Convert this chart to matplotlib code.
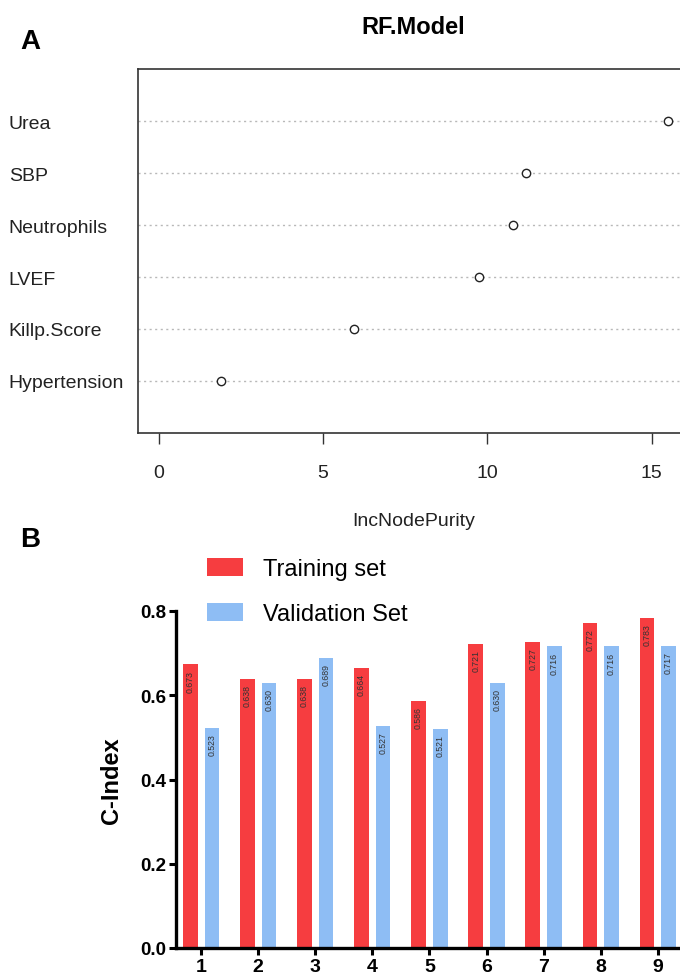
"""Two-panel figure: RF variable importance (A) and C-index per model (B)."""

import matplotlib

matplotlib.use("Agg")
import matplotlib.pyplot as plt  # noqa: E402
import numpy as np  # noqa: E402

plt.rcParams["font.family"] = ["Liberation Sans", "DejaVu Sans"]

# ---- data: panel A (random forest importance) ----
FEATURES = ["Hypertension", "Killp.Score", "LVEF", "Neutrophils", "SBP", "Urea"]
NODE_PURITY = [1.90, 5.94, 9.75, 10.78, 11.19, 15.50]
PURITY_TICKS = [0, 5, 10, 15]

# ---- data: panel B (C-index per model) ----
MODELS = ["1", "2", "3", "4", "5", "6", "7", "8", "9"]
TRAIN_CINDEX = [0.673, 0.638, 0.638, 0.664, 0.586, 0.721, 0.727, 0.772, 0.783]
VALID_CINDEX = [0.523, 0.630, 0.689, 0.527, 0.521, 0.630, 0.716, 0.716, 0.717]
CINDEX_TICKS = [0.0, 0.2, 0.4, 0.6, 0.8]

RED = "#F63D40"
BLUE = "#8EBDF4"
W, H = 680, 979


def panel_a(fig):
    ax = fig.add_axes([138.3 / W, 1 - 434 / H, 550 / W, 364 / H])
    rows = np.arange(1, len(FEATURES) + 1)
    for r in rows:
        ax.axhline(r, color="#b8b8b8", lw=1.0, ls=(0, (1.5, 2.5)), zorder=1)
    ax.plot(NODE_PURITY, rows, "o", mfc="white", mec="#222222", ms=6, mew=1.0,
            zorder=3)
    ax.set_xlim(-0.62, 16.12)
    ax.set_ylim(0, 7)
    ax.set_yticks(rows)
    ax.set_yticklabels(FEATURES, fontsize=14, color="#222222")
    ax.tick_params(axis="y", length=0, pad=93.3)
    for lab in ax.get_yticklabels():
        lab.set_horizontalalignment("left")
    ax.set_xticks(PURITY_TICKS)
    ax.tick_params(axis="x", direction="out", length=8, width=1.0,
                   color="#333333", labelsize=14, labelcolor="#222222", pad=14)
    for sp in ax.spines.values():
        sp.set_color("#333333")
        sp.set_linewidth(1.2)
    ax.set_xlabel("IncNodePurity", fontsize=14, color="#222222", labelpad=23)
    ax.set_title("RF.Model", fontsize=17, fontweight="bold", pad=26)


def panel_b(fig):
    ax = fig.add_axes([176 / W, 1 - 949 / H, 516 / W, 337 / H])
    x = np.arange(1, len(MODELS) + 1)
    bw = 0.254
    off = 0.19
    b1 = ax.bar(x - off, TRAIN_CINDEX, width=bw, color=RED, label="Training set")
    b2 = ax.bar(x + off, VALID_CINDEX, width=bw, color=BLUE, label="Validation Set")
    for xs, vals in ((x - off, TRAIN_CINDEX), (x + off, VALID_CINDEX)):
        for xi, v in zip(xs, vals):
            ax.text(xi, v - 0.012, f"{v:.3f}", rotation=90, ha="center",
                    va="top", fontsize=6.3, color="#333333")
    ax.set_xlim(0.56, 9.6)
    ax.set_ylim(0, 0.8)
    ax.set_xticks(x)
    ax.set_xticklabels(MODELS, fontsize=14, fontweight="bold")
    ax.set_yticks(CINDEX_TICKS)
    ax.set_yticklabels([f"{t:.1f}" for t in CINDEX_TICKS], fontsize=13.5,
                       fontweight="bold")
    ax.tick_params(axis="both", direction="out", length=5, width=2.2, pad=2)
    for side in ("top", "right"):
        ax.spines[side].set_visible(False)
    for side in ("left", "bottom"):
        ax.spines[side].set_linewidth(2.4)
    ax.set_ylabel("C-Index", fontsize=17, fontweight="bold", labelpad=12)

    fig.legend(handles=[b1, b2], loc="upper left",
               bbox_to_anchor=(207 / W, 1 - 559 / H), frameon=False,
               fontsize=17, borderpad=0, handlelength=1.52, handleheight=0.8,
               handletextpad=0.85, labelspacing=0.95, borderaxespad=0)


def main():
    fig = plt.figure(figsize=(W / 100, H / 100), dpi=100)
    panel_a(fig)
    panel_b(fig)
    fig.text(30 / W, 1 - 42 / H, "A", fontsize=20, fontweight="bold",
             ha="center", va="center")
    fig.text(30 / W, 1 - 540 / H, "B", fontsize=20, fontweight="bold",
             ha="center", va="center")
    fig.savefig("out.png", dpi=100)
    plt.close(fig)


if __name__ == "__main__":
    main()
